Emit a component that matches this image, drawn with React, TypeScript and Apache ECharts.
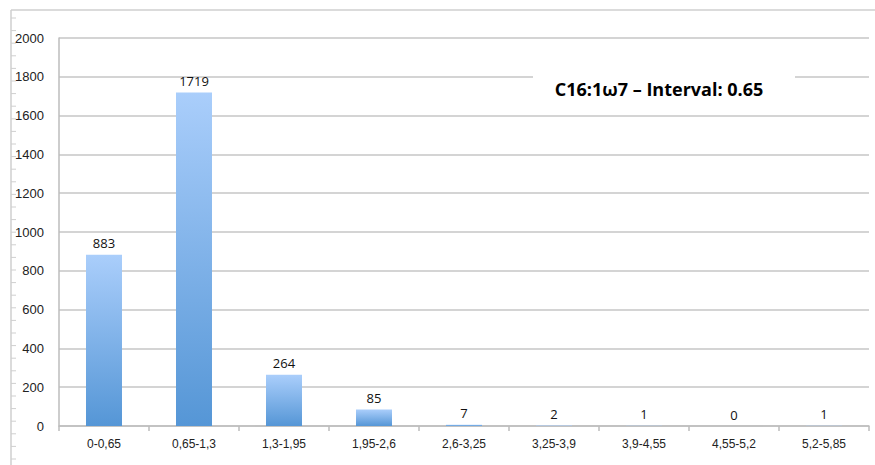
import React, { useEffect, useRef } from "react";
import * as echarts from "echarts";

const categories = ["0-0,65", "0,65-1,3", "1,3-1,95", "1,95-2,6", "2,6-3,25", "3,25-3,9", "3,9-4,55", "4,55-5,2", "5,2-5,85"];
const counts = [883, 1719, 264, 85, 7, 2, 1, 0, 1];
const titleText = "C16:1\u03C97 \u2013 Interval: 0.65";

export default function App() {
  const ref = useRef<HTMLDivElement>(null);
  useEffect(() => {
    if (!ref.current) return;
    const chart = echarts.init(ref.current, undefined, { renderer: "svg" });
    const leftTicks: any[] = [];
    for (let y = 18; y < 465; y += 12.6) {
      leftTicks.push({ type: "line", shape: { x1: 11, y1: y, x2: 16, y2: y }, style: { stroke: "#cfcfcf", lineWidth: 1 }, silent: true });
    }
    const labelStyle = {
      show: true,
      position: "top",
      distance: 5,
      color: "#111111",
      textBorderWidth: 0,
      fontSize: 13,
      fontFamily: "Open Sans, Liberation Sans",
    };
    chart.setOption({
      animation: false,
      backgroundColor: "#ffffff",
      grid: { left: 59, right: 6, top: 38, bottom: 39 },
      xAxis: {
        type: "category",
        data: categories,
        axisLine: { show: true, lineStyle: { color: "#bdbdbd", width: 1.5 } },
        axisTick: { show: true, length: 5, lineStyle: { color: "#bdbdbd", width: 1.5 } },
        axisLabel: { color: "#222", fontSize: 12, fontFamily: "Liberation Sans, Arial", margin: 12 },
      },
      yAxis: {
        type: "value",
        min: 0,
        max: 2000,
        interval: 200,
        axisLine: { show: true, lineStyle: { color: "#bdbdbd", width: 1.5 } },
        axisTick: { show: false },
        splitLine: { show: true, lineStyle: { color: "#c6c6c6", width: 1.5 } },
        axisLabel: { color: "#222", fontSize: 13, fontFamily: "Liberation Sans, Arial", margin: 15, formatter: (v: number) => String(v) },
      },
      series: [
        {
          type: "bar",
          data: counts.map((v) => ({ value: v, label: labelStyle })),
          barWidth: 36,
          itemStyle: {
            color: new echarts.graphic.LinearGradient(0, 0, 0, 1, [
              { offset: 0, color: "#aacefb" },
              { offset: 1, color: "#5596d6" },
            ]),
          },
          label: labelStyle,
          labelLayout: { hideOverlap: false },
        },
      ],
      graphic: [
        { type: "line", shape: { x1: 11, y1: 10, x2: 875, y2: 10 }, style: { stroke: "#cfcfcf", lineWidth: 1.5 }, silent: true },
        { type: "line", shape: { x1: 11, y1: 10, x2: 11, y2: 465 }, style: { stroke: "#cfcfcf", lineWidth: 1.5 }, silent: true },
        ...leftTicks,
        { type: "rect", shape: { x: 533, y: 68, width: 262, height: 42 }, style: { fill: "#ffffff" }, z: 100, silent: true },
        {
          type: "text",
          x: 659,
          y: 89,
          z: 101,
          style: {
            text: titleText,
            fill: "#000",
            font: "bold 18px 'Open Sans', 'Liberation Sans', sans-serif",
            textAlign: "center",
            textVerticalAlign: "middle",
          },
          silent: true,
        },
      ],
    });
    return () => chart.dispose();
  }, []);
  return <div ref={ref} style={{ position: "fixed", left: 0, top: 0, width: 875, height: 465 }} />;
}
